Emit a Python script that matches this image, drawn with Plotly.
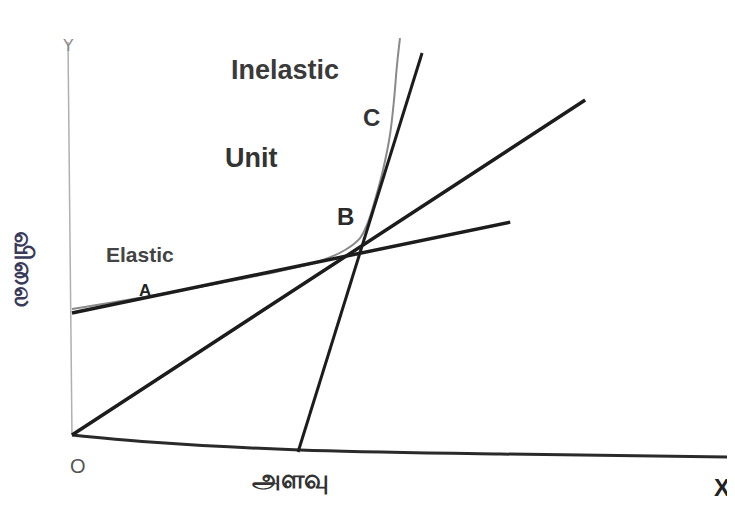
import plotly.graph_objects as go

# ---- data (diagram units: origin O = (0,0)) ----
elastic_x = [0, 66.1]
elastic_y = [30.9, 53.9]
unit_x = [0, 77.4]
unit_y = [0, 84.8]
inelastic_x = [34.1, 52.8]
inelastic_y = [-4.3, 96.7]
curve_x = [0, 11.76, 22.32, 31.37, 37.41, 41.18, 43.44, 44.65, 45.70, 46.91, 47.96, 48.57, 49.02, 49.47]
curve_y = [31.9, 35.19, 38.48, 41.52, 44.05, 46.84, 49.87, 53.92, 59.49, 67.09, 75.95, 84.81, 93.67, 100.5]
xaxis_x = [0, 11.76, 34.39, 64.56, 100]
xaxis_y = [0, -1.77, -3.80, -4.81, -5.57]
yaxis_x = [0, -0.6]
yaxis_y = [0, 99.5]

labels = ["Inelastic", "Unit", "C", "B", "Elastic", "A", "O", "X", "Y"]
label_x = [32.1, 27.0, 45.1, 41.2, 10.3, 11.0, 0.9, 98.0, -0.6]
label_y = [92.4, 70.1, 80.5, 55.2, 45.8, 36.5, -7.8, -13.2, 98.7]
label_size = [27, 27, 24, 24, 21, 17, 20, 24, 16]
label_color = ["#3a3a3a", "#333333", "#333333", "#2a2a2a", "#444444", "#222222", "#555555", "#222222", "#888888"]

x_title = "அளவு"
y_title = "விலை"

fig = go.Figure()
fig.add_trace(go.Scatter(x=yaxis_x, y=yaxis_y, mode="lines", line=dict(color="#b0b0b0", width=1.5), hoverinfo="skip"))
fig.add_trace(go.Scatter(x=xaxis_x, y=xaxis_y, mode="lines", line=dict(color="#2a2a2a", width=3, shape="spline"), hoverinfo="skip"))
fig.add_trace(go.Scatter(x=curve_x, y=curve_y, mode="lines", line=dict(color="#8a8a8a", width=2, shape="spline"), hoverinfo="skip"))
fig.add_trace(go.Scatter(x=elastic_x, y=elastic_y, mode="lines", line=dict(color="#1c1c1c", width=3.5), hoverinfo="skip"))
fig.add_trace(go.Scatter(x=unit_x, y=unit_y, mode="lines", line=dict(color="#1c1c1c", width=3.5), hoverinfo="skip"))
fig.add_trace(go.Scatter(x=inelastic_x, y=inelastic_y, mode="lines", line=dict(color="#1c1c1c", width=3), hoverinfo="skip"))

for t, x, y, s, c in zip(labels, label_x, label_y, label_size, label_color):
    fig.add_annotation(x=x, y=y, xref="x", yref="y", text=f"<b>{t}</b>" if t not in ("O", "Y") else t,
                       showarrow=False, font=dict(size=s, color=c, family="Liberation Sans, Arial, sans-serif"))

fig.add_annotation(x=32.9, y=-10.9, xref="x", yref="y", text=f"<b>{x_title}</b>", showarrow=False,
                   font=dict(size=26, color="#333333"))
fig.add_annotation(x=-7.0, y=41.8, xref="x", yref="y", text=f"<b>{y_title}</b>", showarrow=False, textangle=90,
                   font=dict(size=26, color="#3a3a5a"))

fig.update_layout(
    width=727, height=498,
    margin=dict(l=0, r=0, t=0, b=0),
    paper_bgcolor="white", plot_bgcolor="white",
    showlegend=False,
    xaxis=dict(range=[-9.65, 100], visible=False, fixedrange=True),
    yaxis=dict(range=[-17.97, 108.1], visible=False, fixedrange=True),
)
fig.write_html("out.html")
